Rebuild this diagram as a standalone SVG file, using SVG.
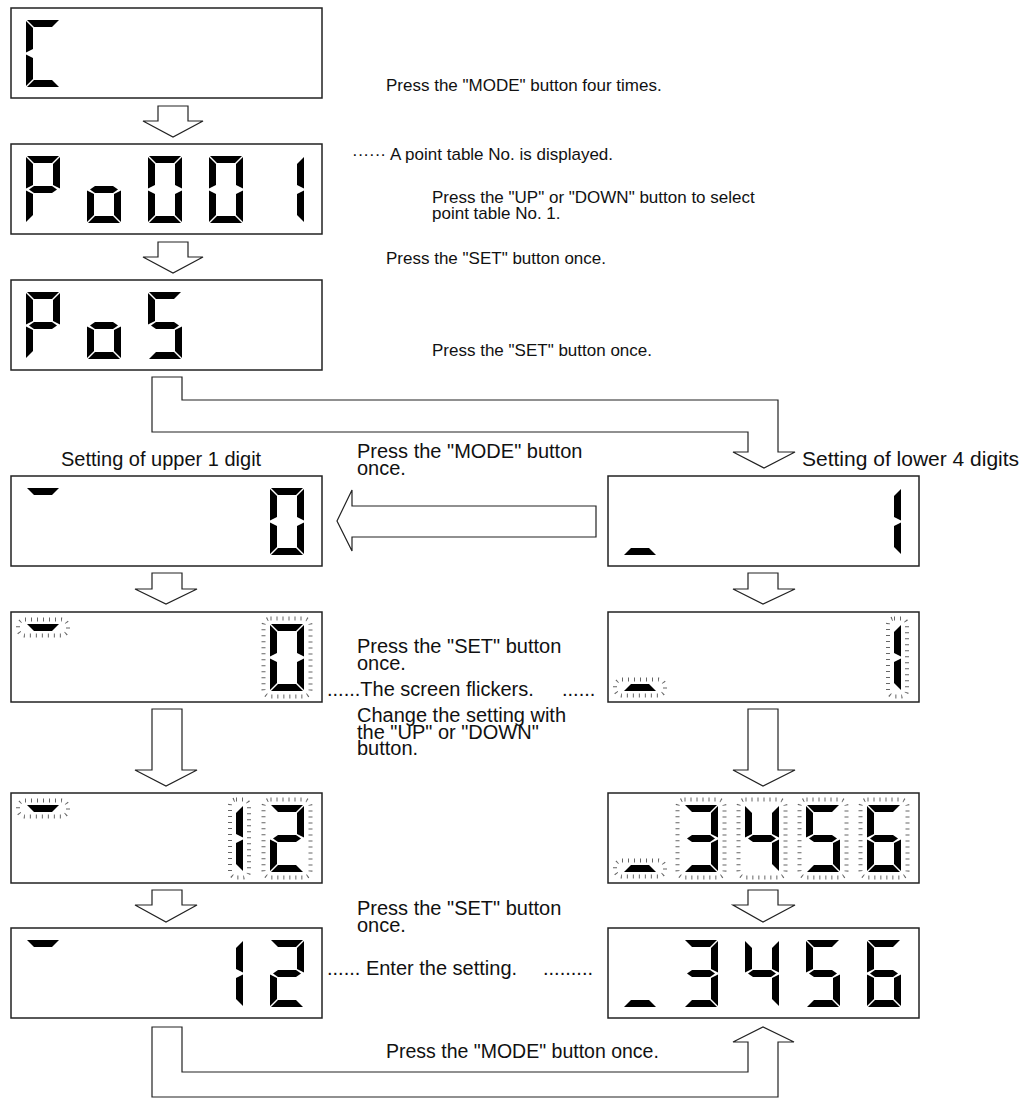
<svg xmlns="http://www.w3.org/2000/svg" width="1025" height="1102" viewBox="0 0 1025 1102">
<style>
.box{fill:#fff;stroke:#222;stroke-width:1.5}
.arr{fill:#fff;stroke:#222;stroke-width:1.2}
.seg{fill:#000}
.fl{fill:none;stroke:#666;stroke-width:4;stroke-dasharray:1 5}
text{font-family:"Liberation Sans",Arial,sans-serif;font-size:20px;fill:#111}
.s{font-size:17px}
</style>
<defs>
<polygon id="sa" class="seg" points="1,0 33,0 26,7 8,7"/>
<polygon id="sb" class="seg" points="34,1 34,32.5 27,29 27,8"/>
<polygon id="sc" class="seg" points="34,34.5 34,66 27,59 27,38"/>
<polygon id="sd" class="seg" points="1,67 33,67 26,60 8,60"/>
<polygon id="se" class="seg" points="0,34.5 7,38 7,59 0,66"/>
<polygon id="sf" class="seg" points="0,1 7,8 7,29 0,32.5"/>
<polygon id="sg" class="seg" points="3,33.5 8,30 26,30 31,33.5 26,37 8,37"/>
<g id="dC"><use href="#sa"/><use href="#sf"/><use href="#se"/><use href="#sd"/></g>
<g id="dP"><use href="#sa"/><use href="#sb"/><use href="#sf"/><use href="#sg"/><use href="#se"/></g>
<g id="do"><use href="#sg"/><use href="#sc"/><use href="#sd"/><use href="#se"/></g>
<g id="d0"><use href="#sa"/><use href="#sb"/><use href="#sc"/><use href="#sd"/><use href="#se"/><use href="#sf"/></g>
<g id="d1"><use href="#sb"/><use href="#sc"/></g>
<g id="dS"><use href="#sa"/><use href="#sf"/><use href="#sg"/><use href="#sc"/><use href="#sd"/></g>
<g id="d2"><use href="#sa"/><use href="#sb"/><use href="#sg"/><use href="#se"/><use href="#sd"/></g>
<g id="d3"><use href="#sa"/><use href="#sb"/><use href="#sg"/><use href="#sc"/><use href="#sd"/></g>
<g id="d4"><use href="#sf"/><use href="#sg"/><use href="#sb"/><use href="#sc"/></g>
<g id="d6"><use href="#sa"/><use href="#sf"/><use href="#sg"/><use href="#se"/><use href="#sd"/><use href="#sc"/></g>
<rect id="frD" class="fl" x="-6.5" y="-5.5" width="47" height="78" rx="7"/>
<rect id="fr1" class="fl" x="21" y="-5.5" width="19" height="78" rx="6"/>
<rect id="frT" class="fl" x="-8" y="-4.5" width="50" height="16" rx="7"/>
<rect id="frB" class="fl" x="-8" y="55.5" width="50" height="16" rx="7"/>
</defs>
<rect width="1025" height="1102" fill="#fff"/>

<g id="connectors">
<path class="arr" d="M158,106 H188 V121 H203 L173,137 L143,121 H158 Z"/>
<path class="arr" d="M158,242 H188 V257 H203 L173,273 L143,257 H158 Z"/>
<path class="arr" d="M152,377 H182 V400 H778 V452 H795 L764,468 L733,452 H748 V432 H152 Z"/>
<path class="arr" d="M596,506 V537 H352 V551 L337,521 L352,490 V506 Z"/>
<path class="arr" d="M152,573 H182 V589 H197 L166,604 L135,589 H152 Z"/>
<path class="arr" d="M748,573 H778 V589 H795 L763,604 L733,589 H748 Z"/>
<path class="arr" d="M152,709 H182 V770 H197 L166,786 L135,770 H152 Z"/>
<path class="arr" d="M748,709 H778 V770 H795 L763,786 L733,770 H748 Z"/>
<path class="arr" d="M152,890 H182 V905 H197 L166,922 L135,905 H152 Z"/>
<path class="arr" d="M748,890 H778 V905 H795 L763,922 L733,905 H748 Z"/>
<path class="arr" d="M152,1027 H182 V1072 H748 V1042 H733 L763,1027 L794,1042 H778 V1097 H152 Z"/>
</g>

<g id="disp1">
<rect class="box" x="11" y="8" width="311" height="90"/>
<use href="#dC" x="26" y="20"/>
</g>
<g id="disp2">
<rect class="box" x="11" y="144" width="311" height="90"/>
<use href="#dP" x="26" y="156"/><use href="#do" x="87" y="156"/><use href="#d0" x="148" y="156"/><use href="#d0" x="209" y="156"/><use href="#d1" x="270" y="156"/>
</g>
<g id="disp3">
<rect class="box" x="11" y="280" width="311" height="90"/>
<use href="#dP" x="26" y="292"/><use href="#do" x="87" y="292"/><use href="#dS" x="148" y="292"/>
</g>
<g id="dispL4">
<rect class="box" x="11" y="476" width="311" height="90"/>
<use href="#sa" x="26" y="488"/><use href="#d0" x="270" y="488"/>
</g>
<g id="dispR4">
<rect class="box" x="608" y="476" width="311" height="90"/>
<use href="#sd" x="623" y="488"/><use href="#d1" x="867" y="488"/>
</g>
<g id="dispL5">
<rect class="box" x="11" y="612" width="311" height="90"/>
<use href="#sa" x="26" y="624"/><use href="#frT" x="26" y="624"/>
<use href="#d0" x="270" y="624"/><use href="#frD" x="270" y="624"/>
</g>
<g id="dispR5">
<rect class="box" x="608" y="612" width="311" height="90"/>
<use href="#sd" x="623" y="624"/><use href="#frB" x="623" y="624"/>
<use href="#d1" x="867" y="624"/><use href="#fr1" x="867" y="624"/>
</g>
<g id="dispL6">
<rect class="box" x="11" y="793" width="311" height="90"/>
<use href="#sa" x="26" y="805"/><use href="#frT" x="26" y="805"/>
<use href="#d1" x="209" y="805"/><use href="#fr1" x="209" y="805"/>
<use href="#d2" x="270" y="805"/><use href="#frD" x="270" y="805"/>
</g>
<g id="dispR6">
<rect class="box" x="608" y="793" width="311" height="90"/>
<use href="#sd" x="623" y="805"/><use href="#frB" x="623" y="805"/>
<use href="#d3" x="684" y="805"/><use href="#frD" x="684" y="805"/>
<use href="#d4" x="745" y="805"/><use href="#frD" x="745" y="805"/>
<use href="#dS" x="806" y="805"/><use href="#frD" x="806" y="805"/>
<use href="#d6" x="867" y="805"/><use href="#frD" x="867" y="805"/>
</g>
<g id="dispL7">
<rect class="box" x="11" y="928" width="311" height="90"/>
<use href="#sa" x="26" y="940"/><use href="#d1" x="209" y="940"/><use href="#d2" x="270" y="940"/>
</g>
<g id="dispR7">
<rect class="box" x="608" y="928" width="311" height="90"/>
<use href="#sd" x="623" y="940"/><use href="#d3" x="684" y="940"/><use href="#d4" x="745" y="940"/><use href="#dS" x="806" y="940"/><use href="#d6" x="867" y="940"/>
</g>

<g id="labels">
<text class="s" x="386" y="91">Press the "MODE" button four times.</text>
<text class="s" x="352" y="160">······<tspan x="390">A point table No. is displayed.</tspan></text>
<text class="s" x="432" y="203">Press the "UP" or "DOWN" button to select</text>
<text class="s" x="432" y="219">point table No. 1.</text>
<text class="s" x="386" y="264">Press the "SET" button once.</text>
<text class="s" x="432" y="356">Press the "SET" button once.</text>
<text x="61" y="466">Setting of upper 1 digit</text>
<text x="357" y="458">Press the "MODE" button</text>
<text x="357" y="475">once.</text>
<text x="802" y="466" style="font-size:21px">Setting of lower 4 digits</text>
<text x="357" y="653">Press the "SET" button</text>
<text x="357" y="670">once.</text>
<text x="327" y="696">......The screen flickers.<tspan x="562">......</tspan></text>
<text x="357" y="722">Change the setting with</text>
<text x="357" y="738.5">the "UP" or "DOWN"</text>
<text x="357" y="755">button.</text>
<text x="357" y="915">Press the "SET" button</text>
<text x="357" y="932">once.</text>
<text x="327" y="975">...... Enter the setting.<tspan x="543">.........</tspan></text>
<text x="386" y="1058" style="font-size:19.5px">Press the "MODE" button once.</text>
</g>
</svg>
